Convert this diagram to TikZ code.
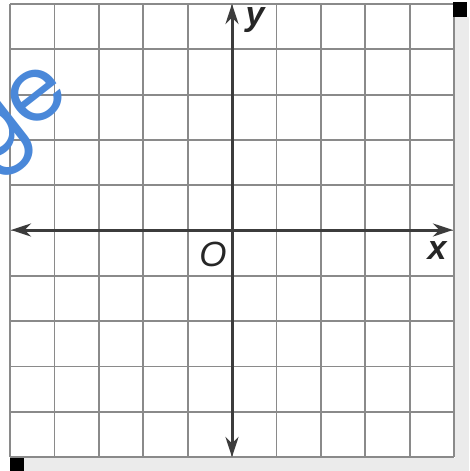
\documentclass[tikz,border=0pt]{standalone}
\usepackage{fontspec}
\setmainfont{Liberation Sans}
\newfontfamily\wmfont{Poppins}
\usetikzlibrary{arrows.meta}
\definecolor{gridgray}{HTML}{8A8A8A}
\definecolor{axisgray}{HTML}{3C3C3C}
\definecolor{wmblue}{HTML}{4A88D9}
\definecolor{shadow}{HTML}{EBEBEB}
\tikzset{
  gridline/.style={draw=gridgray, line width=1.8pt},
  axisline/.style={draw=axisgray, line width=3pt, {Stealth[length=20pt,width=13pt]}-{Stealth[length=20pt,width=13pt]}},
  lbl/.style={font=\fontsize{34}{34}\selectfont\bfseries\itshape, text=black!85, inner sep=0pt},
  olbl/.style={font=\fontsize{35}{35}\selectfont\itshape, text=black!85, inner sep=0pt},
  wm/.style={font=\wmfont\fontsize{90}{90}\selectfont, text=wmblue, inner sep=0pt, rotate=38},
  marker/.style={fill=black, draw=none}
}
\begin{document}
\begin{tikzpicture}[x=1pt,y=-1pt]
\useasboundingbox (0,0) rectangle (469,471);
\fill[white] (0,0) rectangle (469,471);
% shadows
\fill[shadow] (455,17) rectangle (469,471);
\fill[shadow] (24,458) rectangle (469,471);
% grid
\foreach \i in {0,...,10} {
  \draw[gridline] ({10+44.4*\i},4) -- ({10+44.4*\i},457);
  \draw[gridline] (10,{4+45.3*\i}) -- (454,{4+45.3*\i});
}
% axes
\coordinate (xl) at (11,230);
\coordinate (xr) at (453,230);
\coordinate (yt) at (232,4);
\coordinate (yb) at (232,457);
\draw[axisline] (xl) -- (xr);
\draw[axisline] (yb) -- (yt);
% labels
\node[lbl] (ylab) at (255,20) {y};
\node[lbl] (xlab) at (437,251) {x};
\node[olbl] (olab) at (213,254) {O};
% watermark
\node[wm] (wmtext) at (21,123) {g\kern-3pt e};
% corner markers
\fill[marker] (453,2) rectangle (467,17);
\fill[marker] (10,458) rectangle (24,471);
\end{tikzpicture}
\end{document}
